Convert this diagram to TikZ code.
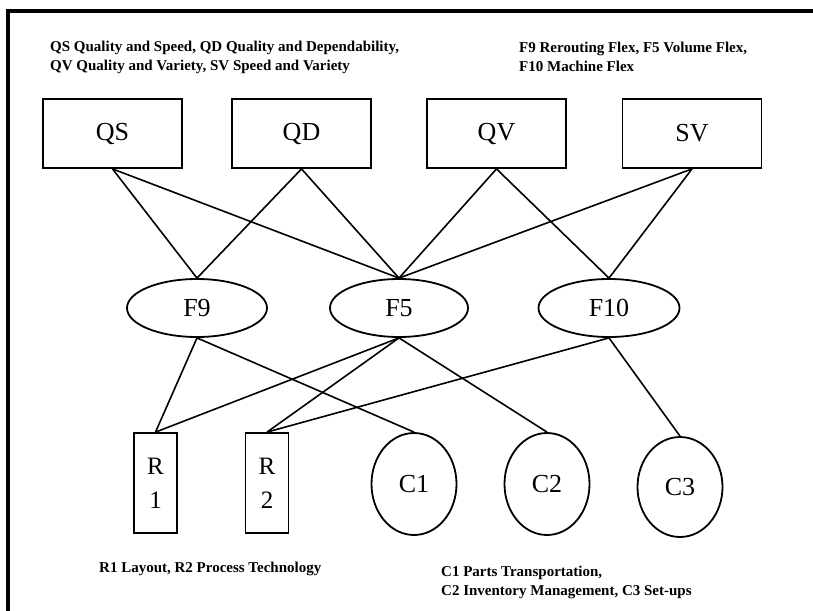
\documentclass[tikz,border=0pt]{standalone}
\usepackage{fontspec}
\setmainfont{Liberation Serif}
\usetikzlibrary{shapes.geometric}

\begin{document}
\begin{tikzpicture}[x=1pt,y=-1pt,
  obj/.style={draw,line width=1.8pt,rectangle,minimum width=139pt,minimum height=69pt,font=\fontsize{26}{30}\selectfont},
  flex/.style={draw,line width=1.8pt,ellipse,inner sep=0pt,minimum width=140pt,minimum height=58pt,font=\fontsize{26}{30}\selectfont},
  res/.style={draw,line width=1.8pt,rectangle,inner sep=0pt,minimum width=43pt,minimum height=100pt,align=center,font=\fontsize{25}{34}\selectfont},
  costnode/.style={draw,line width=1.8pt,ellipse,inner sep=0pt,minimum width=85pt,minimum height=102pt,font=\fontsize{26}{30}\selectfont},
  legend/.style={anchor=north west,inner sep=0pt,align=left,font=\bfseries\fontsize{15}{19}\selectfont},
  link/.style={line width=1.6pt}]
  \useasboundingbox (0,0) rectangle (813,610);
  \draw[line width=3.5pt] (8,615) |- (820,11);

  \node[legend] (qlegend) at (50,41) {QS Quality and Speed, QD Quality and Dependability,\\QV Quality and Variety, SV Speed and Variety};
  \node[legend] (flegend) at (519,42) {F9 Rerouting Flex, F5 Volume Flex,\\F10 Machine Flex};

  \node[obj] (qs) at (112.5,133.5) {QS};
  \node[obj] (qd) at (301.5,133.5) {QD};
  \node[obj] (qv) at (496.5,133.5) {QV};
  \node[obj] (sv) at (692,133.5) {SV};

  \node[flex] (f9) at (197,308) {F9};
  \node[flex,minimum width=138pt] (f5) at (399,308) {F5};
  \node[flex,minimum width=141pt] (f10) at (609,308) {F10};

  \node[res] (r1) at (155.5,483) {R\\1};
  \node[res] (r2) at (267,483) {R\\2};
  \node[costnode] (c1) at (414,484) {C1};
  \node[costnode] (c2) at (547,484) {C2};
  \node[costnode,minimum height=100pt] (c3) at (680,487) {C3};

  \draw[link] (qs.south) -- (f9.north);
  \draw[link] (qs.south) -- (f5.north);
  \draw[link] (qd.south) -- (f9.north);
  \draw[link] (qd.south) -- (f5.north);
  \draw[link] (qv.south) -- (f5.north);
  \draw[link] (qv.south) -- (f10.north);
  \draw[link] (sv.south) -- (f5.north);
  \draw[link] (sv.south) -- (f10.north);

  \draw[link] (f9.south) -- (r1.north);
  \draw[link] (f9.south) -- (c1.north);
  \draw[link] (f5.south) -- (r1.north);
  \draw[link] (f5.south) -- (r2.north);
  \draw[link] (f5.south) -- (c2.north);
  \draw[link] (f10.south) -- (r2.north);
  \draw[link] (f10.south) -- (c3.north);

  \node[legend] (rlegend) at (99,562) {R1 Layout, R2 Process Technology};
  \node[legend] (clegend) at (441,566) {C1 Parts Transportation,\\C2 Inventory Management, C3 Set-ups};
\end{tikzpicture}
\end{document}
